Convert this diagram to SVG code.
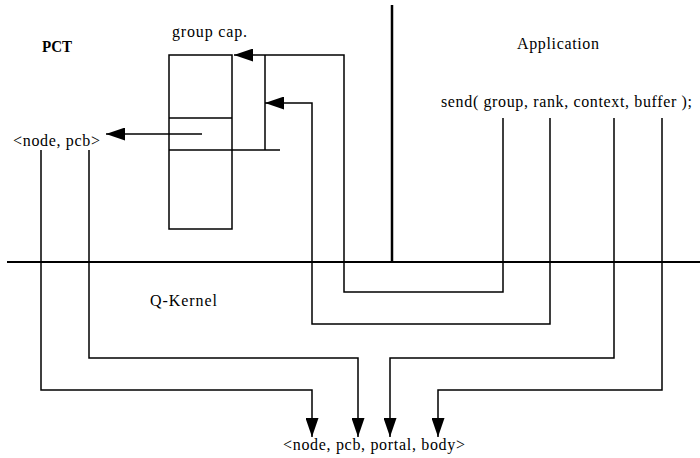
<svg xmlns="http://www.w3.org/2000/svg" width="700" height="458" viewBox="0 0 700 458">
<style>
text{font-family:"Liberation Serif","Times New Roman",serif;font-size:16px;fill:#000}
.ln{fill:none;stroke:#000;stroke-width:1.5}
.bd{fill:none;stroke:#000;stroke-width:2}
.ar{fill:none;stroke:#000;stroke-width:1.5;marker-end:url(#ah)}
</style>
<defs>
<marker id="ah" markerUnits="userSpaceOnUse" markerWidth="20" markerHeight="13" refX="19" refY="6.5" orient="auto">
<path d="M0,0 L19,6.5 L0,13 z" fill="#000"/>
</marker>
</defs>
<rect width="700" height="458" fill="#fff"/>
<g id="boundary">
<line class="bd" x1="7" y1="262" x2="700" y2="262"/>
<line x1="392" y1="5" x2="392" y2="262" stroke="#000" stroke-width="2.5"/>
</g>
<g id="labels">
<text x="42" y="52" textLength="30" lengthAdjust="spacingAndGlyphs" font-weight="bold">PCT</text>
<text x="517" y="49" textLength="82" lengthAdjust="spacing">Application</text>
<text x="150" y="306" textLength="67" lengthAdjust="spacing">Q-Kernel</text>
</g>
<g id="group-cap">
<text x="172" y="37" textLength="75" lengthAdjust="spacing">group cap.</text>
<rect class="ln" x="169" y="55" width="63" height="174"/>
<line class="ln" x1="169" y1="118" x2="232" y2="118"/>
<line class="ln" x1="169" y1="150" x2="280" y2="150"/>
<line class="ln" x1="265" y1="55" x2="265" y2="150"/>
</g>
<g id="node-pcb">
<text x="13" y="146" textLength="87" lengthAdjust="spacing">&lt;node, pcb&gt;</text>
</g>
<g id="send">
<text x="441" y="107" textLength="251" lengthAdjust="spacing">send( group, rank, context, buffer );</text>
</g>
<g id="result">
<text x="283" y="450" textLength="182" lengthAdjust="spacing">&lt;node, pcb, portal, body&gt;</text>
</g>
<g id="connectors">
<path class="ar" d="M503,118 V292 H344 V55 H234"/>
<path class="ar" d="M550,118 V324 H312 V103 H265"/>
<path class="ar" d="M614,118 V358 H390 V437"/>
<path class="ar" d="M662,118 V390 H438 V437"/>
<path class="ar" d="M41,150 V390 H312 V437"/>
<path class="ar" d="M89,150 V358 H358 V437"/>
<path class="ar" d="M202,134 H106"/>
</g>
</svg>
